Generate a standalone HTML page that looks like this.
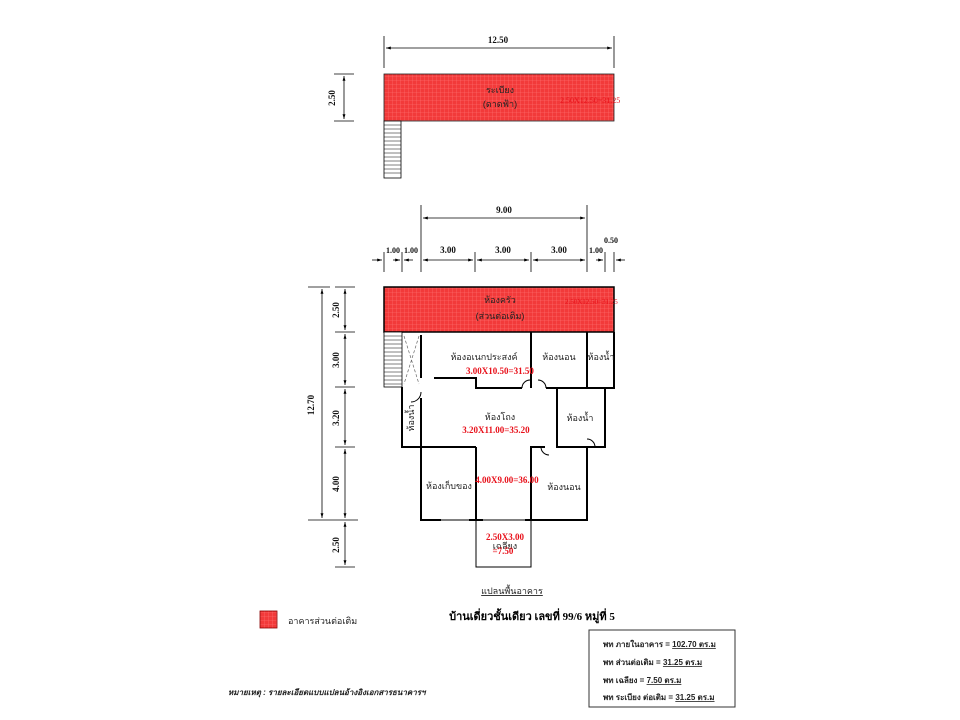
<!DOCTYPE html>
<html><head><meta charset="utf-8"><style>
html,body{margin:0;padding:0;background:#fff;width:960px;height:720px;overflow:hidden}
svg{display:block}
text{font-family:"Liberation Serif","Noto Serif CJK SC",serif}
.t{font-family:"Liberation Sans","Noto Sans CJK SC",sans-serif;font-size:9px;fill:#222}
.d{font-size:9px;font-weight:bold;fill:#111}
.r{font-size:9px;font-weight:bold;fill:#e8101a}
</style></head><body>
<svg width="960" height="720" viewBox="0 0 960 720" xmlns="http://www.w3.org/2000/svg">
<defs>
<pattern id="p" width="4" height="4" patternUnits="userSpaceOnUse">
<rect width="4" height="4" fill="#f23a3a"/><path d="M0 0H4M0 0V4" stroke="#f77" stroke-width="0.6"/>
</pattern>
<marker id="a" viewBox="0 0 10 10" refX="10" refY="5" markerWidth="6" markerHeight="6" orient="auto-start-reverse"><path d="M0 2L10 5L0 8z" fill="#000"/></marker>
</defs>
<g stroke="#000" stroke-width="0.8" fill="none">
<!-- top dims -->
<line x1="384" y1="36" x2="384" y2="68"/><line x1="614" y1="36" x2="614" y2="68"/>
<line x1="386" y1="48" x2="612" y2="48" marker-start="url(#a)" marker-end="url(#a)"/>
<line x1="334" y1="74" x2="354" y2="74"/><line x1="334" y1="121" x2="354" y2="121"/>
<line x1="344" y1="76" x2="344" y2="119" marker-start="url(#a)" marker-end="url(#a)"/>
</g>
<rect x="384" y="74" width="230" height="47" fill="url(#p)" stroke="#222" stroke-width="0.8"/>
<rect x="384" y="121" width="17" height="57" fill="#fff" stroke="#000" stroke-width="0.8"/>
<g stroke="#000" stroke-width="0.5">
<path d="M384 125H401M384 129H401M384 133H401M384 137H401M384 141H401M384 145H401M384 149H401M384 153H401M384 157H401M384 161H401M384 165H401M384 169H401M384 173H401"/>
</g>
<text x="500" y="93" class="t" text-anchor="middle">ระเบียง</text>
<text x="500" y="107" class="t" text-anchor="middle">(ดาดฟ้า)</text>
<text x="560" y="103" class="r" style="font-size:8px;font-weight:normal">2.50X12.50=31.25</text>
<text x="498" y="43" class="d" text-anchor="middle">12.50</text>
<text x="335" y="98" class="d" text-anchor="middle" transform="rotate(-90 335 98)">2.50</text>

<!-- main plan dims -->
<g stroke="#000" stroke-width="0.8" fill="none">
<line x1="421" y1="205" x2="421" y2="272"/><line x1="587" y1="205" x2="587" y2="272"/>
<line x1="423" y1="218" x2="585" y2="218" marker-start="url(#a)" marker-end="url(#a)"/>
<line x1="384" y1="252" x2="384" y2="272"/><line x1="402" y1="252" x2="402" y2="272"/>
<line x1="475" y1="252" x2="475" y2="272"/><line x1="531" y1="252" x2="531" y2="272"/>
<line x1="605" y1="252" x2="605" y2="272"/><line x1="614" y1="252" x2="614" y2="272"/>
<line x1="372" y1="260" x2="382" y2="260" marker-end="url(#a)"/>
<line x1="393" y1="260" x2="400" y2="260" marker-end="url(#a)"/>
<line x1="413" y1="260" x2="404" y2="260" marker-end="url(#a)"/>
<line x1="423" y1="260" x2="473" y2="260" marker-start="url(#a)" marker-end="url(#a)"/>
<line x1="477" y1="260" x2="529" y2="260" marker-start="url(#a)" marker-end="url(#a)"/>
<line x1="533" y1="260" x2="585" y2="260" marker-start="url(#a)" marker-end="url(#a)"/>
<line x1="596" y1="260" x2="603" y2="260" marker-end="url(#a)"/>
<line x1="625" y1="260" x2="616" y2="260" marker-end="url(#a)"/>
<!-- left -->
<line x1="308" y1="287" x2="330" y2="287"/><line x1="308" y1="520" x2="358" y2="520"/>
<line x1="322" y1="289" x2="322" y2="518" marker-start="url(#a)" marker-end="url(#a)"/>
<line x1="335" y1="287" x2="355" y2="287"/><line x1="335" y1="332" x2="355" y2="332"/>
<line x1="335" y1="387" x2="355" y2="387"/><line x1="335" y1="447" x2="355" y2="447"/>
<line x1="335" y1="567" x2="355" y2="567"/>
<line x1="345" y1="289" x2="345" y2="330" marker-start="url(#a)" marker-end="url(#a)"/>
<line x1="345" y1="334" x2="345" y2="385" marker-start="url(#a)" marker-end="url(#a)"/>
<line x1="345" y1="389" x2="345" y2="445" marker-start="url(#a)" marker-end="url(#a)"/>
<line x1="345" y1="449" x2="345" y2="518" marker-start="url(#a)" marker-end="url(#a)"/>
<line x1="345" y1="522" x2="345" y2="565" marker-start="url(#a)" marker-end="url(#a)"/>
</g>
<text x="504" y="213" class="d" text-anchor="middle">9.00</text>
<text x="393" y="253" class="d" text-anchor="middle" style="font-size:8px">1.00</text>
<text x="411" y="253" class="d" text-anchor="middle" style="font-size:8px">1.00</text>
<text x="448" y="253" class="d" text-anchor="middle">3.00</text>
<text x="503" y="253" class="d" text-anchor="middle">3.00</text>
<text x="559" y="253" class="d" text-anchor="middle">3.00</text>
<text x="596" y="253" class="d" text-anchor="middle" style="font-size:8px">1.00</text>
<text x="611" y="243" class="d" text-anchor="middle" style="font-size:8px">0.50</text>
<text x="314" y="405" class="d" text-anchor="middle" transform="rotate(-90 314 405)">12.70</text>
<text x="339" y="310" class="d" text-anchor="middle" transform="rotate(-90 339 310)">2.50</text>
<text x="339" y="360" class="d" text-anchor="middle" transform="rotate(-90 339 360)">3.00</text>
<text x="339" y="418" class="d" text-anchor="middle" transform="rotate(-90 339 418)">3.20</text>
<text x="339" y="484" class="d" text-anchor="middle" transform="rotate(-90 339 484)">4.00</text>
<text x="339" y="545" class="d" text-anchor="middle" transform="rotate(-90 339 545)">2.50</text>

<!-- kitchen -->
<rect x="384" y="287" width="230" height="45" fill="url(#p)" stroke="#000" stroke-width="1.5"/>
<!-- stair -->
<rect x="384" y="332" width="18" height="55" fill="#fff" stroke="#000" stroke-width="0.8"/>
<g stroke="#000" stroke-width="0.5"><path d="M384 336H402M384 340H402M384 344H402M384 348H402M384 352H402M384 356H402M384 360H402M384 364H402M384 368H402M384 372H402M384 376H402M384 380H402M384 384H402"/></g>
<g stroke="#666" stroke-width="0.7" stroke-dasharray="3 2" fill="none"><path d="M404 336L419 384M419 336L404 384"/></g>
<!-- walls -->
<g stroke="#000" stroke-width="2" fill="none">
<path d="M402 387V447H421"/>
<path d="M421 335V378"/>
<path d="M434 378H476V388H522M546 388H614V332"/>
<path d="M531 332V388M587 332V388"/>
<path d="M557 388V447H605V388"/>
<path d="M421 398V520H441M469 520H476V447M421 447H476"/>
<path d="M476 520H483M525 520H531V447H541M531 447V520H587V447H557"/>
<path d="M541 447H545"/>
</g>
<g stroke="#000" stroke-width="1" fill="none">
<path d="M441 520H469M483 520H525"/>
<path d="M476 520V567H531V520"/>
<path d="M421 392A10 10 0 0 1 411 402"/>
<path d="M522 388A8 8 0 0 1 530 380M546 388A8 8 0 0 0 538 380"/>
<path d="M541 447A8 8 0 0 0 549 455M595 447A8 8 0 0 0 587 439"/>
</g>
<!-- labels -->
<text x="500" y="303" class="t" text-anchor="middle">ห้องครัว</text>
<text x="500" y="319" class="t" text-anchor="middle">(ส่วนต่อเติม)</text>
<text x="565" y="304" class="r" style="font-size:7px;font-weight:normal">2.50X12.50=31.25</text>
<text x="484" y="360" class="t" text-anchor="middle">ห้องอเนกประสงค์</text>
<text x="500" y="374" class="r" text-anchor="middle">3.00X10.50=31.50</text>
<text x="559" y="360" class="t" text-anchor="middle">ห้องนอน</text>
<text x="601" y="360" class="t" text-anchor="middle">ห้องน้ำ</text>
<text x="500" y="420" class="t" text-anchor="middle">ห้องโถง</text>
<text x="496" y="433" class="r" text-anchor="middle">3.20X11.00=35.20</text>
<text x="580" y="421" class="t" text-anchor="middle">ห้องน้ำ</text>
<text x="414" y="418" class="t" text-anchor="middle" transform="rotate(-90 414 418)">ห้องน้ำ</text>
<text x="449" y="489" class="t" text-anchor="middle">ห้องเก็บของ</text>
<text x="507" y="483" class="r" text-anchor="middle">4.00X9.00=36.00</text>
<text x="564" y="490" class="t" text-anchor="middle">ห้องนอน</text>
<text x="505" y="540" class="r" text-anchor="middle">2.50X3.00</text>
<text x="505" y="549" class="t" text-anchor="middle">เฉลียง</text>
<text x="503" y="554" class="r" text-anchor="middle">=7.50</text>

<text x="512" y="594" class="t" text-anchor="middle" text-decoration="underline">แปลนพื้นอาคาร</text>
<text x="532" y="620" text-anchor="middle" style="font-size:11px;font-weight:bold">บ้านเดี่ยวชั้นเดียว  เลขที่ 99/6 หมู่ที่ 5</text>
<rect x="260" y="611" width="17" height="17" fill="url(#p)" stroke="#800" stroke-width="0.8"/>
<text x="288" y="624" class="t">อาคารส่วนต่อเติม</text>
<text x="228" y="695" class="t" style="font-style:italic;font-weight:bold;font-size:8px">หมายเหตุ : รายละเอียดแบบแปลนอ้างอิงเอกสารธนาคารฯ</text>
<rect x="589" y="630" width="146" height="77" fill="#fff" stroke="#333" stroke-width="1"/>
<g style="font-size:8px;font-weight:bold">
<text x="603" y="647" class="t" style="font-weight:bold;font-size:8px">พท ภายในอาคาร = <tspan text-decoration="underline">102.70 ตร.ม</tspan></text>
<text x="603" y="665" class="t" style="font-weight:bold;font-size:8px">พท ส่วนต่อเติม = <tspan text-decoration="underline">31.25 ตร.ม</tspan></text>
<text x="603" y="683" class="t" style="font-weight:bold;font-size:8px">พท เฉลียง = <tspan text-decoration="underline">7.50 ตร.ม</tspan></text>
<text x="603" y="700" class="t" style="font-weight:bold;font-size:8px">พท ระเบียง ต่อเติม = <tspan text-decoration="underline">31.25 ตร.ม</tspan></text>
</g>
</svg>
</body></html>
